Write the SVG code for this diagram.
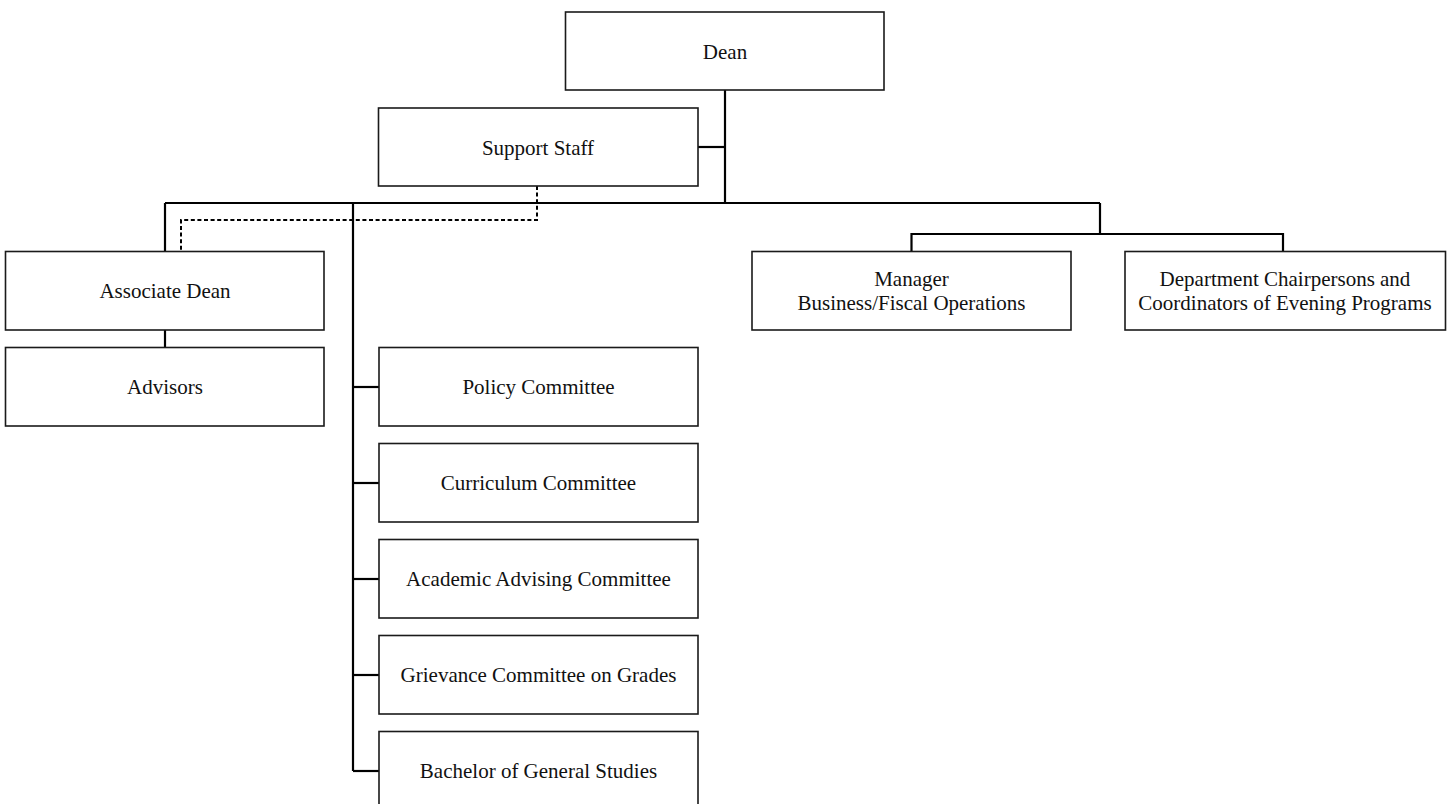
<svg xmlns="http://www.w3.org/2000/svg" width="1448" height="804" viewBox="0 0 1448 804">
  <style>
    .box { fill: #ffffff; stroke: #1a1a1a; stroke-width: 1.6; }
    .label { font-family: "Liberation Serif", "Times New Roman", serif; font-size: 21px; fill: #111111; text-anchor: middle; }
    .link { fill: none; stroke: #000000; stroke-width: 2.2; }
    .dotted { fill: none; stroke: #000000; stroke-width: 2; stroke-dasharray: 4 2.6; }
  </style>
  <rect width="1448" height="804" fill="#ffffff"/>

  <!-- reporting lines -->
  <g id="connectors">
    <!-- Dean trunk and main bus -->
    <path class="link" d="M725 90 V203"/>
    <path class="link" d="M698 147 H725"/>
    <path class="link" d="M165 203 H1100"/>
    <!-- Associate Dean and Advisors -->
    <path class="link" d="M165 203 V251.5"/>
    <path class="link" d="M165 330 V347.5"/>
    <!-- committee spine -->
    <path class="link" d="M353 203 V771"/>
    <path class="link" d="M353 387 H379"/>
    <path class="link" d="M353 483 H379"/>
    <path class="link" d="M353 579 H379"/>
    <path class="link" d="M353 675 H379"/>
    <path class="link" d="M353 771 H379"/>
    <!-- right branch -->
    <path class="link" d="M1100 203 V234 M911.5 251.5 V234 H1283 V251.5"/>
    <!-- advisory link from Support Staff to Associate Dean -->
    <path class="dotted" d="M537 186 V220 H181 V251.5"/>
  </g>

  <g id="dean">
    <rect class="box" x="565.5" y="12" width="318.5" height="78"/>
    <text class="label" x="725" y="59">Dean</text>
  </g>
  <g id="support-staff">
    <rect class="box" x="378.5" y="108" width="319.5" height="78"/>
    <text class="label" x="538" y="154.5">Support Staff</text>
  </g>
  <g id="associate-dean">
    <rect class="box" x="5.5" y="251.5" width="318.5" height="78.5"/>
    <text class="label" x="165" y="298">Associate Dean</text>
  </g>
  <g id="advisors">
    <rect class="box" x="5.5" y="347.5" width="318.5" height="78.5"/>
    <text class="label" x="165" y="394">Advisors</text>
  </g>
  <g id="manager">
    <rect class="box" x="752" y="251.5" width="319" height="78.5"/>
    <text class="label" x="911.5" y="286">Manager</text>
    <text class="label" x="911.5" y="310">Business/Fiscal Operations</text>
  </g>
  <g id="department-chairpersons">
    <rect class="box" x="1125" y="251.5" width="320.5" height="78.5"/>
    <text class="label" x="1285" y="286">Department Chairpersons and</text>
    <text class="label" x="1285" y="310">Coordinators of Evening Programs</text>
  </g>
  <g id="policy-committee">
    <rect class="box" x="379" y="347.5" width="319" height="78.5"/>
    <text class="label" x="538.5" y="394">Policy Committee</text>
  </g>
  <g id="curriculum-committee">
    <rect class="box" x="379" y="443.5" width="319" height="78.5"/>
    <text class="label" x="538.5" y="490">Curriculum Committee</text>
  </g>
  <g id="academic-advising-committee">
    <rect class="box" x="379" y="539.5" width="319" height="78.5"/>
    <text class="label" x="538.5" y="586">Academic Advising Committee</text>
  </g>
  <g id="grievance-committee">
    <rect class="box" x="379" y="635.5" width="319" height="78.5"/>
    <text class="label" x="538.5" y="682">Grievance Committee on Grades</text>
  </g>
  <g id="bachelor-general-studies">
    <rect class="box" x="379" y="731.5" width="319" height="78.5"/>
    <text class="label" x="538.5" y="778">Bachelor of General Studies</text>
  </g>
</svg>
